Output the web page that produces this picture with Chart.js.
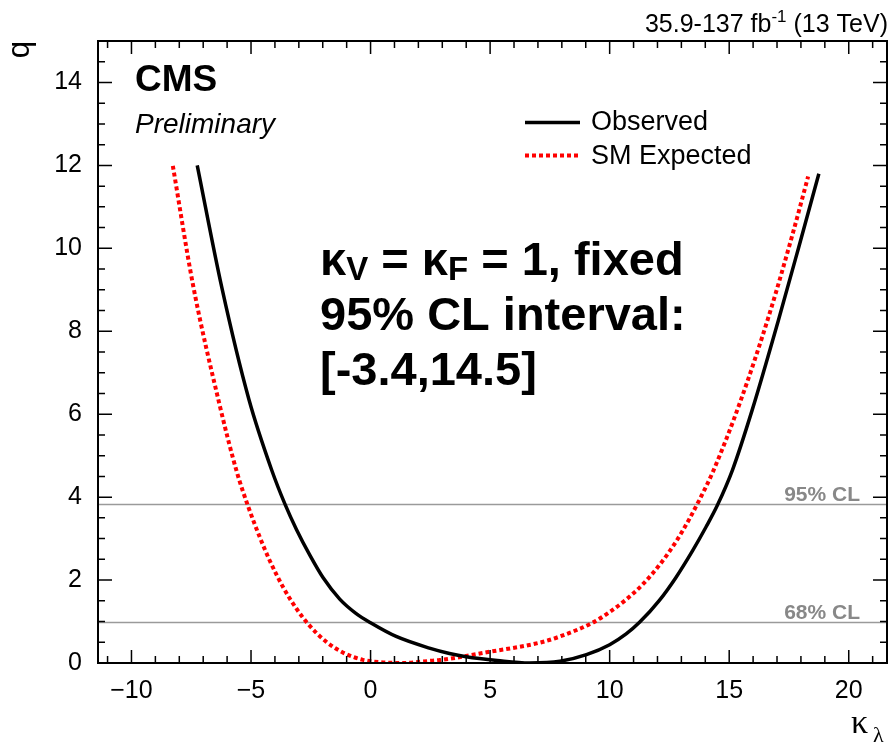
<!DOCTYPE html>
<html>
<head>
<meta charset="utf-8">
<script src="https://cdn.jsdelivr.net/npm/chart.js@4.4.1/dist/chart.umd.min.js"></script>
<style>
  html, body { margin: 0; padding: 0; background: #fff; }
  #wrap { width: 889px; height: 743px; position: relative; }
</style>
</head>
<body>
<div id="wrap"><canvas id="scanChart"></canvas></div>
<script>
// kappa_lambda scan values
var obsX = [-7.25, -6.22, -5.09, -4.14, -3.58, -3.10, -2.54, -1.99, -1.29, -0.60, 0.0, 1.07, 2.46, 3.3, 4.0, 5.3, 6.65, 7.92, 9.03, 10.0, 10.69, 11.25, 12.08, 12.78, 13.47, 14.03, 14.51, 15.14, 15.95, 17.05, 17.9, 18.75];
var obsQ = [12.0, 9.05, 6.36, 4.66, 3.83, 3.22, 2.60, 2.06, 1.54, 1.19, 0.97, 0.64, 0.36, 0.23, 0.15, 0.06, 0.0, 0.04, 0.2, 0.44, 0.70, 0.98, 1.51, 2.07, 2.71, 3.28, 3.81, 4.66, 6.08, 8.25, 10.01, 11.8];
var expX = [-8.27, -7.43, -6.32, -5.60, -5.11, -4.63, -4.21, -3.65, -3.10, -2.61, -1.85, -1.08, -0.32, 0.38, 1.35, 2.46, 2.89, 4.98, 7.07, 7.92, 9.31, 10.0, 10.69, 11.39, 12.08, 12.78, 13.33, 13.75, 14.31, 15.45, 16.69, 17.67, 18.30];
var expQ = [11.99, 9.13, 6.24, 4.62, 3.76, 3.03, 2.46, 1.82, 1.31, 0.94, 0.51, 0.23, 0.076, 0.02, 0.0, 0.05, 0.07, 0.27, 0.49, 0.64, 0.98, 1.23, 1.53, 1.90, 2.36, 2.93, 3.47, 3.93, 4.60, 6.28, 8.43, 10.38, 11.73];

var xTicks = [-10, -5, 0, 5, 10, 15, 20];
var yTicks = [0, 2, 4, 6, 8, 10, 12, 14];
var clLevels = [3.84, 1.0];
var clLabels = ['95% CL', '68% CL'];

var SANS = '"Liberation Sans", Arial, Helvetica, sans-serif';
var SERIF = '"Liberation Serif", "DejaVu Serif", serif';
Chart.defaults.font.family = SANS;
Chart.defaults.color = '#000';

function toPoints(xs, ys) {
  var pts = [];
  for (var i = 0; i < xs.length; i++) pts.push({ x: xs[i], y: ys[i] });
  return pts;
}
function minusSign(v) {
  return v < 0 ? '\u2212' + Math.abs(v) : String(v);
}

// frame, inward ticks, CL lines and all the ROOT-style text
var rootStyle = {
  id: 'rootStyle',
  beforeDatasetsDraw: function(chart) {
    var ctx = chart.ctx, a = chart.chartArea, ys = chart.scales.y;
    ctx.save();
    ctx.strokeStyle = '#9a9a9a';
    ctx.lineWidth = 1.5;
    clLevels.forEach(function(v, i) {
      var py = Math.round(ys.getPixelForValue(v)) + 0.5;
      ctx.beginPath();
      ctx.moveTo(a.left, py);
      ctx.lineTo(a.right, py);
      ctx.stroke();
      ctx.fillStyle = '#888';
      ctx.font = 'bold 21px ' + SANS;
      ctx.textAlign = 'right';
      ctx.textBaseline = 'alphabetic';
      ctx.fillText(clLabels[i], 860, py - 4);
    });
    ctx.restore();
  },
  afterDraw: function(chart) {
    var ctx = chart.ctx, a = chart.chartArea;
    var xs = chart.scales.x, ys = chart.scales.y;
    ctx.save();
    ctx.strokeStyle = '#000';
    ctx.lineWidth = 1.5;
    // x ticks, bottom and top
    for (var v = Math.ceil(xs.min); v <= xs.max; v++) {
      var px = xs.getPixelForValue(v);
      var len = (v % 5 === 0) ? 13 : 7;
      ctx.beginPath();
      ctx.moveTo(px, a.bottom); ctx.lineTo(px, a.bottom - len);
      ctx.moveTo(px, a.top); ctx.lineTo(px, a.top + len);
      ctx.stroke();
    }
    // y ticks, left and right
    for (var w = 0; w <= ys.max + 0.001; w += 0.5) {
      var py = ys.getPixelForValue(w);
      var l2 = (w % 2 === 0) ? 14 : 7;
      ctx.beginPath();
      ctx.moveTo(a.left, py); ctx.lineTo(a.left + l2, py);
      ctx.moveTo(a.right, py); ctx.lineTo(a.right - l2, py);
      ctx.stroke();
    }
    ctx.lineWidth = 2;
    ctx.strokeRect(a.left, a.top, a.right - a.left, a.bottom - a.top);

    ctx.fillStyle = '#000';
    ctx.textBaseline = 'alphabetic';
    ctx.textAlign = 'left';
    ctx.font = 'bold 37px ' + SANS;
    ctx.fillText('CMS', 135, 91);
    ctx.font = 'italic 28px ' + SANS;
    ctx.fillText('Preliminary', 135, 133);

    // legend
    ctx.font = '27px ' + SANS;
    ctx.fillText('Observed', 591, 130);
    ctx.fillText('SM Expected', 591, 164);
    ctx.lineWidth = 3.5;
    ctx.beginPath(); ctx.moveTo(525, 122.5); ctx.lineTo(580, 122.5); ctx.stroke();
    ctx.strokeStyle = '#ff0000';
    ctx.lineWidth = 4;
    ctx.setLineDash([4, 3]);
    ctx.beginPath(); ctx.moveTo(525, 155.5); ctx.lineTo(580, 155.5); ctx.stroke();
    ctx.setLineDash([]);

    // lumi label, right aligned
    var big = '25px ' + SANS, small = '17px ' + SANS;
    ctx.font = big;
    var p1 = '35.9-137 fb', p3 = ' (13 TeV)';
    var w1 = ctx.measureText(p1).width, w3 = ctx.measureText(p3).width;
    ctx.font = small;
    var w2 = ctx.measureText('-1').width;
    var x0 = 888 - w1 - w2 - w3;
    ctx.font = big; ctx.fillText(p1, x0, 32);
    ctx.font = small; ctx.fillText('-1', x0 + w1, 22);
    ctx.font = big; ctx.fillText(p3, x0 + w1 + w2, 32);

    // big annotation
    var bx = 320;
    var f1 = 'bold 47px ' + SANS, fs = 'bold 33px ' + SANS;
    var segs = [['\u03ba', f1, 0], ['V', fs, 5], [' = \u03ba', f1, 0], ['F', fs, 5], [' = 1, fixed', f1, 0]];
    segs.forEach(function(s) {
      ctx.font = s[1];
      ctx.fillText(s[0], bx, 275 + s[2]);
      bx += ctx.measureText(s[0]).width;
    });
    ctx.font = f1;
    ctx.fillText('95% CL interval:', 320, 330);
    ctx.fillText('[-3.4,14.5]', 320, 385);

    // axis titles
    ctx.font = '34px ' + SERIF;
    ctx.fillText('\u03ba', 851, 733);
    ctx.font = '22px ' + SERIF;
    ctx.fillText('\u03bb', 873, 742);

    ctx.translate(29, 41);
    ctx.rotate(-Math.PI / 2);
    ctx.font = '31px ' + SANS;
    ctx.textAlign = 'right';
    ctx.fillText('q', 0, 0);
    ctx.restore();
  }
};

var ctx = document.getElementById('scanChart').getContext('2d');
var scanChart = new Chart(ctx, {
  type: 'scatter',
  data: {
    datasets: [{
      label: 'Observed',
      data: toPoints(obsX, obsQ),
      showLine: true,
      borderColor: '#000',
      borderWidth: 3.5,
      pointRadius: 0,
      cubicInterpolationMode: 'monotone'
    }, {
      label: 'SM Expected',
      data: toPoints(expX, expQ),
      showLine: true,
      borderColor: '#ff0000',
      borderWidth: 4,
      borderDash: [4, 3],
      pointRadius: 0,
      cubicInterpolationMode: 'monotone'
    }]
  },
  options: {
    responsive: true,
    maintainAspectRatio: false,
    animation: false,
    layout: { padding: { top: 41, right: 2, left: 0, bottom: 0 } },
    plugins: { legend: { display: false }, tooltip: { enabled: false } },
    scales: {
      x: {
        type: 'linear', min: -11.4, max: 21.6,
        grid: { display: false },
        border: { display: false },
        afterBuildTicks: function(s) { s.ticks = xTicks.map(function(v) { return { value: v }; }); },
        afterFit: function(s) { s.height = 80; },
        ticks: { font: { size: 25 }, color: '#000', padding: 5, maxRotation: 0, callback: minusSign }
      },
      y: {
        type: 'linear', min: 0, max: 15,
        grid: { display: false },
        border: { display: false },
        afterBuildTicks: function(s) { s.ticks = yTicks.map(function(v) { return { value: v }; }); },
        afterFit: function(s) { s.width = 98; },
        ticks: { font: { size: 25 }, color: '#000', padding: 8, callback: minusSign }
      }
    }
  },
  plugins: [rootStyle]
});
</script>
</body>
</html>
